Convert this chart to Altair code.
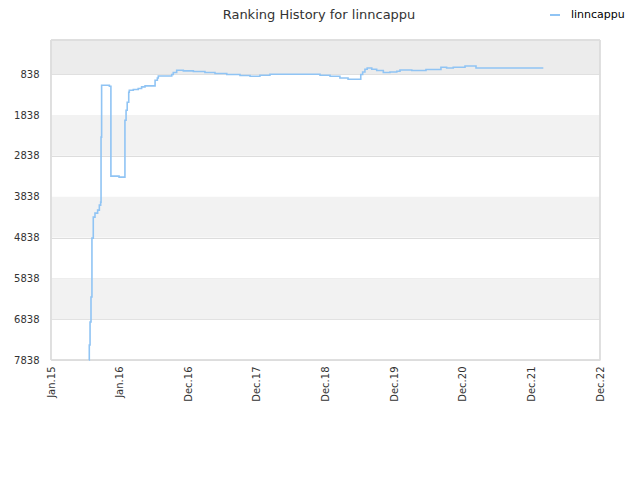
import altair as alt
import pandas as pd

# ---- data ----
dates = [
    "2015-07-24", "2015-07-26", "2015-07-30", "2015-08-04", "2015-08-09", "2015-08-16",
    "2015-08-25", "2015-09-08", "2015-09-17", "2015-09-24", "2015-09-26", "2015-09-29",
    "2015-11-09", "2015-11-17", "2015-12-30", "2016-01-30", "2016-02-05", "2016-02-11",
    "2016-02-19", "2016-02-22", "2016-03-14", "2016-04-09", "2016-04-27", "2016-05-15",
    "2016-07-07", "2016-07-19", "2016-07-24", "2016-10-03", "2016-10-11", "2016-10-29",
    "2016-12-03", "2017-01-25", "2017-03-27", "2017-05-19", "2017-07-20", "2017-09-28",
    "2017-11-20", "2018-01-11", "2018-03-05", "2018-11-24", "2019-01-16", "2019-03-09",
    "2019-04-21", "2019-06-27", "2019-07-07", "2019-07-19", "2019-07-31", "2019-08-24",
    "2019-09-19", "2019-10-24", "2019-11-28", "2020-01-03", "2020-01-20", "2020-03-22",
    "2020-06-05", "2020-08-23", "2020-09-22", "2020-10-27", "2020-12-28", "2021-02-24",
    "2022-02-14",
]
ranks = [
    7838, 7470, 6908, 6296, 4852, 4338,
    4240, 4167, 4044, 3971, 2380, 1107,
    1132, 3335, 3359, 1964, 1719, 1523,
    1279, 1230, 1212, 1188, 1149, 1124,
    985, 929, 880, 845, 796, 740,
    757, 772, 796, 821, 845, 870,
    887, 862, 838, 862, 887, 929,
    960, 845, 782, 716, 684, 716,
    747, 796, 782, 765, 733, 747,
    723, 667, 684, 667, 635, 684,
    684,
]
series_name = "linncappu"
title_text = "Ranking History for linncappu"

y_ticks = [838, 1838, 2838, 3838, 4838, 5838, 6838, 7838]
band_start = [0, 1838, 3838, 5838]
band_end = [838, 2838, 4838, 6838]
band_fill = ["#ececec", "#f2f2f2", "#f2f2f2", "#f2f2f2"]

x_tick_dates = [(2015, 1, 5), (2016, 1, 2), (2016, 12, 29), (2017, 12, 26), (2018, 12, 23),
                (2019, 12, 20), (2020, 12, 16), (2021, 12, 13), (2022, 12, 10)]
x_domain = [(2015, 1, 5), (2022, 12, 10)]

df = pd.DataFrame({"date": dates, "rank": ranks, "series": series_name})
bands = pd.DataFrame({"y0": band_start, "y1": band_end, "fill": band_fill})
title_df = pd.DataFrame({"t": [title_text]})

def dt(t):
    return alt.DateTime(year=t[0], month=t[1], date=t[2], utc=True)

FONT = "DejaVu Sans"

yscale = alt.Scale(domain=[0, 7838], reverse=True, nice=False, zero=False)
xscale = alt.Scale(type="utc", domain=[dt(x_domain[0]), dt(x_domain[1])], nice=False)

y_axis = alt.Axis(
    values=y_ticks,
    format="d",
    grid=True,
    gridColor="#dddddd",
    ticks=False,
    domain=False,
    labelPadding=12,
    labelFont=FONT,
    labelFontSize=10,
    labelColor="#333333",
)

band_layer = alt.Chart(bands).mark_rect(opacity=1).encode(
    x=alt.value(0),
    x2=alt.value(549),
    y=alt.Y("y0:Q", scale=yscale, title=None, axis=y_axis),
    y2="y1:Q",
    fill=alt.Fill("fill:N", scale=None, legend=None),
)

line_layer = alt.Chart(df).mark_line(interpolate="step-after", strokeWidth=1.6).encode(
    x=alt.X(
        "date:T",
        scale=xscale,
        title=None,
        axis=alt.Axis(
            values=[dt(t) for t in x_tick_dates],
            labelExpr="utcFormat(datum.value, '%b.%y')",
            labelAngle=-90,
            labelAlign="right",
            labelBaseline="middle",
            grid=False,
            ticks=False,
            domain=False,
            labelPadding=6,
            labelFont=FONT,
            labelFontSize=10,
            labelColor="#333333",
        ),
    ),
    y=alt.Y("rank:Q", scale=yscale, title=None, axis=y_axis),
    stroke=alt.Stroke(
        "series:N",
        scale=alt.Scale(range=["#90c4f4"]),
        legend=alt.Legend(
            title=None,
            orient="none",
            legendX=498,
            legendY=-31,
            symbolType="stroke",
            symbolSize=100,
            symbolStrokeWidth=2,
            labelOffset=10,
            labelFont=FONT,
            labelFontSize=11,
            labelColor="#000000",
        ),
    ),
)

border_layer = alt.Chart(bands).mark_rect(fill=None, stroke="#dddddd", strokeWidth=1).encode(
    x=alt.value(0), x2=alt.value(549), y=alt.value(0), y2=alt.value(320)
)

title_layer = alt.Chart(title_df).mark_text(
    font=FONT, fontSize=13, color="#333333", align="center", baseline="middle"
).encode(text="t:N", x=alt.value(268), y=alt.value(-25))

chart = alt.layer(band_layer, border_layer, line_layer, title_layer).resolve_scale(
    fill="independent", stroke="independent"
).properties(
    width=549,
    height=320,
    autosize=alt.AutoSizeParams(type="none"),
    padding={"left": 43, "top": 32, "right": 32, "bottom": 112},
).configure_view(stroke=None)

chart.save("out.html", embed_options={"renderer": "svg", "actions": False})
